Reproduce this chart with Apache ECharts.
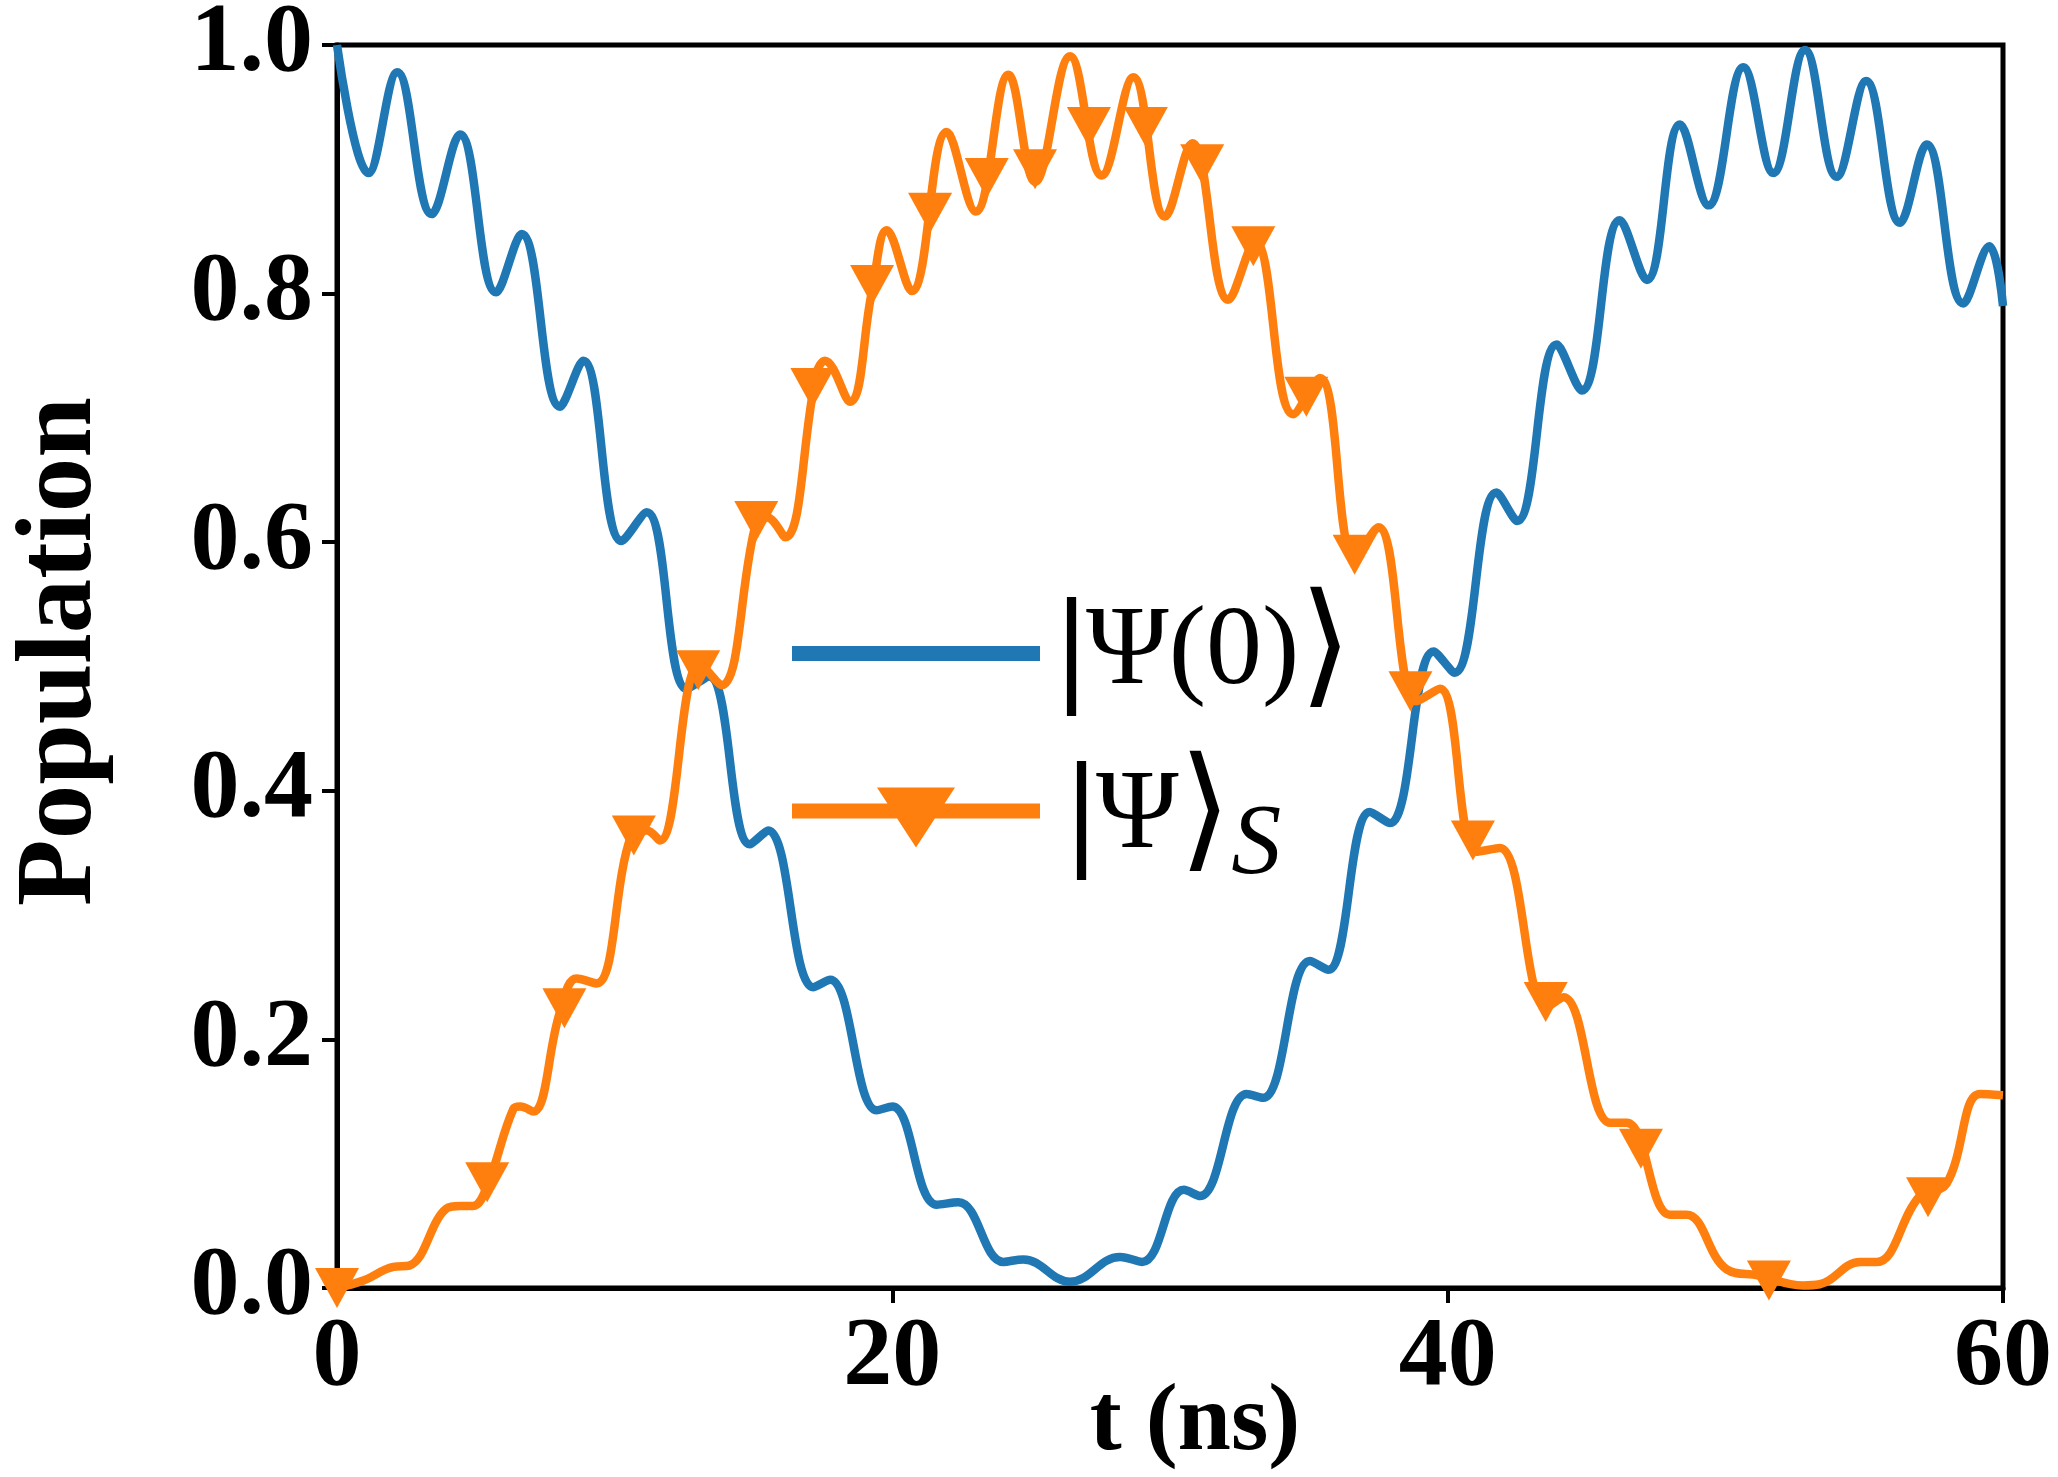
<!DOCTYPE html>
<html>
<head>
<meta charset="utf-8">
<script src="https://cdn.jsdelivr.net/npm/echarts@6/dist/echarts.min.js"></script>
<style>
html,body{margin:0;padding:0;background:#fff;}
#chart{width:2058px;height:1477px;}
</style>
</head>
<body>
<div id="chart"></div>
<script>
// |Psi(0)> population
const blueT = [0, 1.13, 2.17, 3.41, 4.43, 5.73, 6.65, 8.03, 8.87, 10.25, 11.15, 12.6, 13.4, 14.87, 15.53, 17.15, 17.76, 19.44, 20.0, 21.6, 22.38, 24.0, 24.72, 26.4, 28.2, 29.0, 30.5, 31.08, 32.76, 33.36, 35.04, 35.7, 37.2, 37.92, 39.5, 40.25, 41.76, 42.5, 43.93, 44.83, 46.2, 47.17, 48.37, 49.39, 50.65, 51.73, 52.87, 54.01, 55.07, 56.29, 57.25, 58.57, 59.51, 60.0];
const blueV = [1.0, 0.897, 0.978, 0.864, 0.928, 0.801, 0.848, 0.709, 0.746, 0.601, 0.624, 0.482, 0.492, 0.357, 0.368, 0.242, 0.248, 0.143, 0.146, 0.067, 0.069, 0.021, 0.023, 0.005, 0.025, 0.021, 0.079, 0.074, 0.156, 0.153, 0.263, 0.256, 0.383, 0.374, 0.512, 0.495, 0.640, 0.617, 0.759, 0.722, 0.859, 0.811, 0.936, 0.871, 0.982, 0.897, 0.996, 0.894, 0.971, 0.857, 0.920, 0.792, 0.838, 0.790];

// |Psi>_S population
const orangeT = [0, 0.95, 2.03, 2.6, 3.95, 4.43, 4.9, 5.39, 6.35, 6.6, 7.07, 8.03, 8.63, 9.35, 10.6, 11.15, 11.63, 13.07, 13.85, 15.11, 15.47, 16.14, 17.27, 17.57, 18.47, 19.26, 19.8, 20.7, 21.96, 23.0, 24.18, 25.14, 26.4, 27.54, 28.68, 29.82, 30.8, 32.1, 33.06, 34.44, 35.4, 36.65, 37.5, 38.88, 39.72, 41.04, 41.88, 43.56, 44.17, 45.85, 46.45, 48.0, 48.6, 50.05, 51.2, 52.8, 53.4, 54.85, 55.45, 57.0, 57.97, 59.17, 60.0];
const orangeV = [0.0, 0.006, 0.017, 0.018, 0.064, 0.066, 0.066, 0.081, 0.144, 0.146, 0.142, 0.222, 0.249, 0.245, 0.364, 0.368, 0.360, 0.502, 0.485, 0.617, 0.620, 0.604, 0.736, 0.746, 0.713, 0.801, 0.851, 0.802, 0.930, 0.866, 0.976, 0.890, 0.991, 0.895, 0.974, 0.862, 0.921, 0.795, 0.842, 0.703, 0.732, 0.588, 0.612, 0.472, 0.482, 0.351, 0.354, 0.226, 0.234, 0.133, 0.133, 0.059, 0.059, 0.015, 0.010, 0.002, 0.003, 0.021, 0.021, 0.074, 0.084, 0.156, 0.155];

// triangle markers along |Psi>_S
const markerT = [0, 5.41, 8.19, 10.69, 13.01, 15.1, 17.12, 19.27, 21.36, 23.4, 25.14, 27.08, 29.13, 31.16, 33.0, 34.91, 36.65, 38.66, 40.91, 43.53, 46.96, 51.57, 57.3];
const markerV = [0.0, 0.085, 0.225, 0.364, 0.497, 0.617, 0.724, 0.807, 0.865, 0.893, 0.900, 0.934, 0.934, 0.904, 0.838, 0.717, 0.590, 0.480, 0.360, 0.230, 0.112, 0.006, 0.073];

const xTicks = [0, 20, 40, 60];
const yTicks = [0.0, 0.2, 0.4, 0.6, 0.8, 1.0];

const BLUE = '#1f77b4', ORANGE = '#ff7f0e';
const SERIF = "'Liberation Serif', 'Times New Roman', serif";
const MATH = "'Liberation Serif', 'DejaVu Serif', 'DejaVu Sans', serif";

const zip = (a, b) => a.map((v, i) => [v, b[i]]);

const chart = echarts.init(document.getElementById('chart'), null, {renderer: 'canvas'});

const option = {
  animation: false,
  backgroundColor: '#fff',
  grid: {left: 337, right: 55, top: 45, bottom: 189, show: true, borderColor: '#000', borderWidth: 5,
    backgroundColor: 'transparent', containLabel: false, outerBoundsMode: 'none'},
  xAxis: {
    type: 'value', min: xTicks[0], max: xTicks[xTicks.length - 1], interval: xTicks[1] - xTicks[0],
    name: 't (ns)', nameLocation: 'middle', nameGap: 88, nameMoveOverlap: false,
    nameTextStyle: {fontFamily: SERIF, fontWeight: 'bold', fontSize: 96, color: '#000', padding: [0, 0, 0, 50]},
    axisLine: {lineStyle: {color: '#000', width: 5}},
    axisTick: {inside: false, length: 15, lineStyle: {color: '#000', width: 4}},
    axisLabel: {margin: 22, fontFamily: SERIF, fontWeight: 'bold', fontSize: 98, color: '#000'},
    splitLine: {show: false}
  },
  yAxis: {
    type: 'value', min: yTicks[0], max: yTicks[yTicks.length - 1], interval: 0.2,
    name: 'Population', nameLocation: 'middle', nameGap: 221, nameMoveOverlap: false,
    nameTextStyle: {fontFamily: SERIF, fontWeight: 'bold', fontSize: 109, color: '#000', padding: [0, 0, 0, 30]},
    axisLine: {lineStyle: {color: '#000', width: 5}},
    axisTick: {inside: false, length: 15, lineStyle: {color: '#000', width: 4}},
    axisLabel: {margin: 24, fontFamily: SERIF, fontWeight: 'bold', fontSize: 98, color: '#000',
      formatter: v => v.toFixed(1)},
    splitLine: {show: false}
  },
  legend: [
    {
      data: [{name: 'psi0', icon: 'rect'}],
      left: 792, top: 586, padding: 0,
      itemWidth: 248, itemHeight: 15, selectedMode: false,
      itemStyle: {borderWidth: 0},
      formatter: () => '{bar|\u007C}{m|\u03A8(0)}{ang|\u27E9}',
      textStyle: {
        color: '#000',
        rich: {
          bar: {fontFamily: MATH, fontSize: 132, fontWeight: 'bold', color: '#000', padding: [0, 0, 0, 12]},
          m: {fontFamily: MATH, fontSize: 112, color: '#000'},
          ang: {fontFamily: MATH, fontSize: 135, color: '#000'}
        }
      }
    },
    {
      data: [{name: 'psiS', icon: 'path://M0,16L248,16L248,31L0,31Z M85,0L163,0L124,60Z'}],
      left: 792, top: 750, padding: 0,
      itemWidth: 248, itemHeight: 60, selectedMode: false,
      itemStyle: {borderWidth: 0},
      formatter: () => '{bar|\u007C}{m|\u03A8}{ang|\u27E9}{s|S}',
      textStyle: {
        color: '#000',
        rich: {
          bar: {fontFamily: MATH, fontSize: 132, fontWeight: 'bold', color: '#000', padding: [0, 0, 0, 22]},
          m: {fontFamily: MATH, fontSize: 112, color: '#000'},
          ang: {fontFamily: MATH, fontSize: 135, color: '#000'},
          s: {fontFamily: MATH, fontSize: 100, fontStyle: 'italic', color: '#000', padding: [56, 0, 0, 0]}
        }
      }
    }
  ],
  series: [
    {
      name: 'psi0', type: 'line', data: zip(blueT, blueV), smooth: 0.4,
      showSymbol: false, symbol: 'none', z: 2,
      lineStyle: {color: BLUE, width: 8.5}, itemStyle: {color: BLUE}
    },
    {
      name: 'psiS', type: 'line', data: zip(orangeT, orangeV), smooth: 0.4,
      showSymbol: false, symbol: 'none', z: 3,
      lineStyle: {color: ORANGE, width: 8.5}, itemStyle: {color: ORANGE}
    },
    {
      name: 'markers', type: 'scatter', data: zip(markerT, markerV), z: 4,
      symbol: 'triangle', symbolRotate: 180, symbolSize: [44, 40],
      itemStyle: {color: ORANGE, opacity: 1}, clip: true
    }
  ]
};
chart.setOption(option);
</script>
</body>
</html>
